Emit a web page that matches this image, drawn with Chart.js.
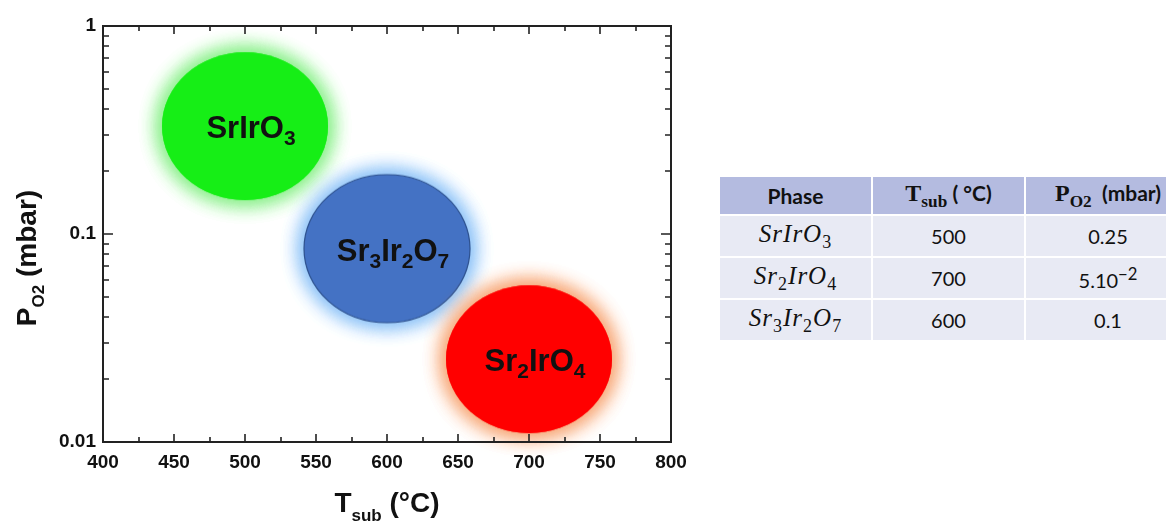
<!DOCTYPE html>
<html>
<head>
<meta charset="utf-8">
<script src="https://cdn.jsdelivr.net/npm/chart.js@4.4.1/dist/chart.umd.min.js"></script>
<style>
  html, body { margin: 0; padding: 0; background: #fff; width: 1166px; height: 523px; overflow: hidden; }
  #chartBox { position: absolute; left: 0; top: 0; width: 700px; height: 523px; }
  #phaseTable {
    position: absolute; left: 718px; top: 175px; width: 472px;
    border-collapse: collapse; table-layout: fixed;
    font-family: Lato, "Open Sans", sans-serif; color: #111;
  }
  #phaseTable td, #phaseTable th {
    border: 2px solid #fff; text-align: center; padding: 0; white-space: nowrap;
  }
  #phaseTable th { background: #b4bbe0; height: 37px; font-size: 21px; font-weight: bold; }
  #phaseTable td { background: #e8eaf4; height: 40px; font-size: 20px; }
  .serifB { font-family: "Liberation Serif", serif; font-weight: bold; font-size: 24px; }
  .math { font-family: "Liberation Serif", serif; font-style: italic; font-size: 25px; letter-spacing: 1px; }
  .math sub, .serifB sub { font-size: 0.72em; font-style: normal; }
</style>
</head>
<body>
<div id="chartBox"><canvas id="phaseChart" width="700" height="523"></canvas></div>
<table id="phaseTable"></table>

<script>
// chart data
const phases = ['SrIrO3', 'Sr3Ir2O7', 'Sr2IrO4'];
const tSub = [500, 600, 700];
const pO2 = [0.33, 0.085, 0.025];
const yTickValues = [1, 0.1, 0.01];

// table contents
const tablePhases = ['SrIrO3', 'Sr2IrO4', 'Sr3Ir2O7'];
const tableTemps = ['500', '700', '600'];
const tablePressures = ['0.25', '5.10<sup>\u22122</sup>', '0.1'];

// styles
const blobFill = ['#16ee16', '#4472c4', '#ff0000'];
const blobGlow = ['#8cf08c', '#8cc2f7', '#f7a878'];
const blobStroke = [null, '#2f528f', null];
const axisFont = 'Liberation Sans, Arial, sans-serif';

// split "Sr3Ir2O7" into normal text and subscript digits
function formulaParts(str) {
    const parts = [];
    str.replace(/(\d+)|(\D+)/g, function(m, d) {
        parts.push({ text: m, sub: !!d });
    });
    return parts;
}

// blob images used as point styles (ellipse with soft halo)
function makeBlob(fill, glow, stroke) {
    const rx = 83, ry = 74, pad = 30;
    const c = document.createElement('canvas');
    c.width = 2 * (rx + pad);
    c.height = 2 * (ry + pad);
    const ctx = c.getContext('2d');
    ctx.shadowColor = glow;
    ctx.shadowBlur = 22;
    ctx.fillStyle = fill;
    for (let i = 0; i < 3; i++) {
        ctx.beginPath();
        ctx.ellipse(c.width / 2, c.height / 2, rx, ry, 0, 0, Math.PI * 2);
        ctx.fill();
    }
    if (stroke) {
        ctx.shadowBlur = 0;
        ctx.shadowColor = 'transparent';
        ctx.strokeStyle = stroke;
        ctx.lineWidth = 1.2;
        ctx.stroke();
    }
    return c;
}

// draw text with subscripts, centered on x
function drawRich(ctx, parts, x, y, size, subSize, subShift) {
    const fontOf = p => 'bold ' + (p.sub ? subSize : size) + 'px ' + axisFont;
    let w = 0;
    parts.forEach(p => { ctx.font = fontOf(p); w += ctx.measureText(p.text).width; });
    let cx = x - w / 2;
    ctx.textAlign = 'left';
    ctx.textBaseline = 'alphabetic';
    parts.forEach(p => {
        ctx.font = fontOf(p);
        ctx.fillText(p.text, cx, y + (p.sub ? subShift : 0));
        cx += ctx.measureText(p.text).width;
    });
}

// frame with inward ticks on all four sides
const framePlugin = {
    id: 'frame',
    afterDatasetsDraw(chart) {
        const ctx = chart.ctx;
        const a = chart.chartArea;
        const xs = chart.scales.x, ys = chart.scales.y;
        ctx.save();
        ctx.strokeStyle = '#222';
        ctx.lineWidth = 2;
        ctx.strokeRect(a.left, a.top, a.right - a.left, a.bottom - a.top);
        ctx.lineWidth = 1.6;
        ctx.beginPath();
        for (let v = xs.min; v <= xs.max; v += 25) {
            const px = Math.round(xs.getPixelForValue(v));
            const len = (v % 50 === 0) ? 8 : 5;
            ctx.moveTo(px, a.bottom); ctx.lineTo(px, a.bottom - len);
            ctx.moveTo(px, a.top); ctx.lineTo(px, a.top + len);
        }
        for (let dec = ys.min; dec < ys.max * 0.999; dec *= 10) {
            for (let m = 1; m <= 9; m++) {
                const py = Math.round(ys.getPixelForValue(dec * m));
                const len = m === 1 ? 10 : 6;
                ctx.moveTo(a.left, py); ctx.lineTo(a.left + len, py);
                ctx.moveTo(a.right, py); ctx.lineTo(a.right - len, py);
            }
        }
        ctx.stroke();
        ctx.restore();
    }
};

// phase names on the blobs
const labelPlugin = {
    id: 'blobLabels',
    afterDatasetsDraw(chart) {
        const ctx = chart.ctx;
        const meta = chart.getDatasetMeta(0);
        ctx.save();
        ctx.fillStyle = '#111';
        meta.data.forEach((pt, i) => {
            drawRich(ctx, formulaParts(phases[i]), pt.x + 6, pt.y + 12, 31, 21, 7);
        });
        ctx.restore();
    }
};

// axis titles with subscripts
const titlePlugin = {
    id: 'axisTitles',
    afterDraw(chart) {
        const ctx = chart.ctx;
        const a = chart.chartArea;
        ctx.save();
        ctx.fillStyle = '#111';
        drawRich(ctx, [{ text: 'T' }, { text: 'sub', sub: true }, { text: ' (\u00B0C)' }],
            (a.left + a.right) / 2, 512, 28, 17, 9);
        ctx.translate(36, (a.top + a.bottom) / 2 + 24);
        ctx.rotate(-Math.PI / 2);
        drawRich(ctx, [{ text: 'P' }, { text: 'O2', sub: true }, { text: ' (mbar)' }],
            0, 0, 28, 17, 8);
        ctx.restore();
    }
};

const ctx = document.getElementById('phaseChart').getContext('2d');
new Chart(ctx, {
    type: 'scatter',
    data: {
        datasets: [{
            data: tSub.map((t, i) => ({ x: t, y: pO2[i] })),
            pointStyle: phases.map((p, i) => makeBlob(blobFill[i], blobGlow[i], blobStroke[i])),
            clip: false
        }]
    },
    options: {
        responsive: false,
        animation: false,
        events: [],
        layout: { padding: { top: 26, right: 29, left: 0, bottom: 0 } },
        plugins: { legend: { display: false }, tooltip: { enabled: false } },
        scales: {
            x: {
                type: 'linear', min: 400, max: 800,
                grid: { display: false, drawTicks: false },
                border: { display: false },
                afterFit(scale) { scale.height = 81; },
                ticks: {
                    stepSize: 50, padding: 9, color: '#111',
                    font: { family: axisFont, size: 19, weight: 'bold' }
                }
            },
            y: {
                type: 'logarithmic', min: 0.01, max: 1,
                grid: { display: false, drawTicks: false },
                border: { display: false },
                afterFit(scale) { scale.width = 103; },
                afterBuildTicks(scale) { scale.ticks = yTickValues.map(v => ({ value: v })); },
                ticks: {
                    padding: 7, color: '#111',
                    font: { family: axisFont, size: 19, weight: 'bold' },
                    callback: v => String(v)
                }
            }
        }
    },
    plugins: [framePlugin, labelPlugin, titlePlugin]
});

// table on the right
function mathHtml(str) {
    return formulaParts(str).map(p => p.sub ? '<sub>' + p.text + '</sub>' : p.text).join('');
}
const table = document.getElementById('phaseTable');
let html = '<colgroup><col style="width:153px"><col style="width:153px"><col style="width:166px"></colgroup>';
html += '<tr><th>Phase</th>' +
    '<th><span class="serifB">T<sub>sub</sub></span> ( \u00B0C)</th>' +
    '<th><span class="serifB">P<sub>O2</sub></span>&nbsp; (mbar)</th></tr>';
tablePhases.forEach((p, i) => {
    html += '<tr><td><span class="math">' + mathHtml(p) + '</span></td>' +
        '<td>' + tableTemps[i] + '</td><td>' + tablePressures[i] + '</td></tr>';
});
table.innerHTML = html;
</script>
</body>
</html>
